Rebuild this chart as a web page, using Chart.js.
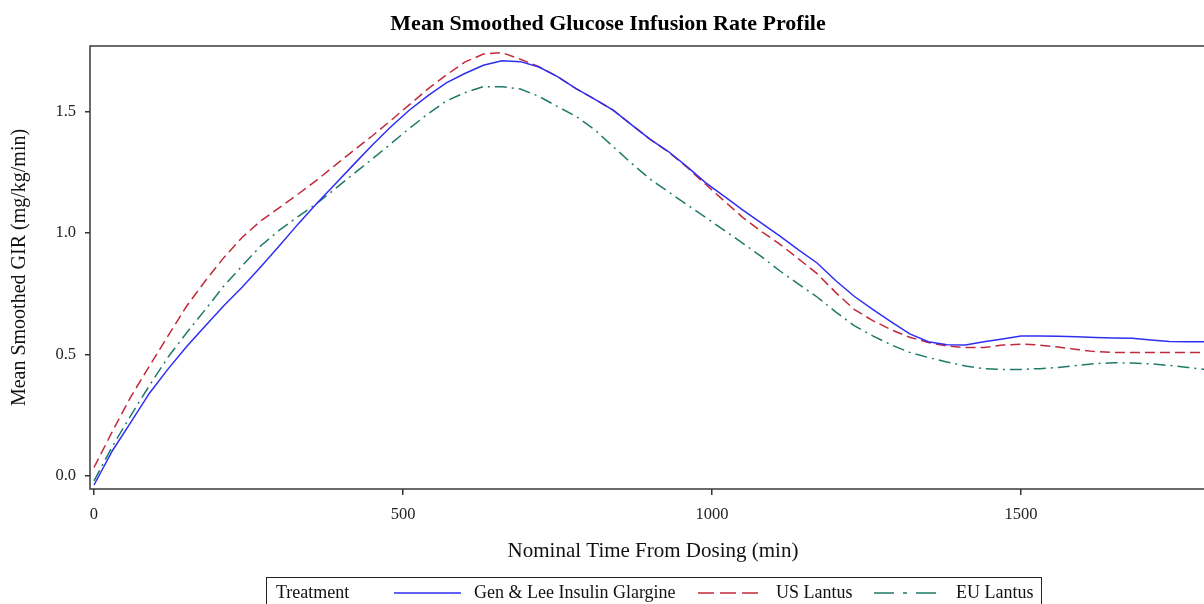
<!DOCTYPE html>
<html><head><meta charset="utf-8">
<script src="https://cdn.jsdelivr.net/npm/chart.js@4/dist/chart.umd.min.js"></script>
<style>
html,body{margin:0;padding:0;background:#fff;overflow:hidden;}
#wrap{position:relative;width:1204px;height:604px;overflow:hidden;background:#fff;}
canvas{position:absolute;left:0;top:0;}
#legend{position:absolute;left:266px;top:577px;width:776px;height:40px;border:1px solid #222;font-family:"Liberation Serif",serif;font-size:18px;color:#111;box-sizing:border-box;}
#legend span{position:absolute;top:3px;white-space:nowrap;line-height:22px;}
#legend svg{position:absolute;top:13px;}
</style></head>
<body><div id="wrap"><canvas id="c" width="1218" height="604"></canvas><div id="legend"></div></div>
<script>
const chartTitle = 'Mean Smoothed Glucose Infusion Rate Profile';
const xTitle = 'Nominal Time From Dosing (min)';
const yTitle = 'Mean Smoothed GIR (mg/kg/min)';
const legendTitle = 'Treatment';
const seriesNames = ['Gen & Lee Insulin Glargine', 'US Lantus', 'EU Lantus'];
const xTicks = [0, 500, 1000, 1500];
const yTicks = [0.0, 0.5, 1.0, 1.5];

const times = [0,30,60,90,120,150,180,210,240,270,300,330,360,390,420,450,480,510,540,570,600,630,660,690,720,750,780,810,840,870,900,930,960,990,1020,1050,1080,1110,1140,1170,1200,1230,1260,1290,1320,1350,1380,1410,1440,1470,1500,1530,1560,1590,1620,1650,1680,1710,1740,1770,1800];

const genLee = [-0.037,0.105,0.223,0.342,0.441,0.533,0.618,0.701,0.778,0.862,0.948,1.037,1.121,1.201,1.282,1.362,1.437,1.506,1.565,1.619,1.657,1.691,1.710,1.706,1.684,1.644,1.595,1.552,1.506,1.446,1.386,1.335,1.273,1.207,1.151,1.095,1.041,0.988,0.931,0.877,0.805,0.740,0.686,0.635,0.585,0.553,0.540,0.539,0.553,0.564,0.576,0.576,0.575,0.573,0.570,0.568,0.567,0.560,0.554,0.553,0.553];

const usLantus = [0.035,0.185,0.328,0.454,0.578,0.700,0.803,0.899,0.983,1.051,1.105,1.160,1.217,1.279,1.340,1.400,1.463,1.528,1.593,1.651,1.704,1.737,1.743,1.716,1.685,1.644,1.595,1.552,1.506,1.446,1.386,1.333,1.270,1.200,1.132,1.064,1.007,0.954,0.894,0.833,0.756,0.686,0.640,0.602,0.571,0.550,0.535,0.529,0.529,0.539,0.543,0.539,0.531,0.521,0.512,0.509,0.509,0.509,0.509,0.509,0.509];

const euLantus = [-0.020,0.123,0.251,0.374,0.490,0.590,0.685,0.782,0.866,0.948,1.012,1.068,1.121,1.182,1.244,1.305,1.367,1.431,1.490,1.544,1.578,1.603,1.603,1.593,1.563,1.521,1.481,1.426,1.356,1.287,1.222,1.169,1.116,1.064,1.011,0.958,0.903,0.844,0.790,0.737,0.676,0.619,0.577,0.540,0.509,0.488,0.469,0.453,0.442,0.439,0.439,0.442,0.447,0.455,0.463,0.466,0.465,0.462,0.455,0.447,0.438];

const colors = ['#2f2ff2', '#c22a3a', '#1f7a6a'];
const dashes = [[], [10, 5], [12, 5, 2, 5]];
const legendDashes = [[], [16, 6], [20, 9, 4, 9]];
const seriesValues = [genLee, usLantus, euLantus];

const serif = '"Liberation Serif", "Times New Roman", serif';

const framePlugin = {
  id: 'frame',
  afterDraw(chart) {
    const a = chart.chartArea, ctx = chart.ctx;
    ctx.save();
    ctx.strokeStyle = '#3a3a3a';
    ctx.lineWidth = 1.5;
    ctx.strokeRect(a.left, a.top, a.right - a.left, a.bottom - a.top);
    ctx.restore();
  }
};

new Chart(document.getElementById('c'), {
  type: 'line',
  data: {
    datasets: seriesNames.map((name, i) => ({
      label: name,
      data: times.map((t, j) => ({x: t, y: seriesValues[i][j]})),
      borderColor: colors[i],
      backgroundColor: colors[i],
      borderWidth: 1.5,
      borderDash: dashes[i],
      pointRadius: 0,
      tension: 0,
      fill: false
    }))
  },
  options: {
    responsive: false,
    animation: false,
    devicePixelRatio: 1,
    layout: {padding: {left: 0, right: 2, top: 0, bottom: 39.2}},
    plugins: {
      legend: {display: false},
      tooltip: {enabled: false},
      title: {
        display: true,
        text: chartTitle,
        color: '#000',
        font: {family: serif, size: 22, weight: 'bold'},
        padding: {top: 10.8, bottom: 8.8}
      }
    },
    scales: {
      x: {
        type: 'linear',
        min: -6.47,
        max: 1815.5,
        afterBuildTicks: s => { s.ticks = xTicks.map(v => ({value: v})); },
        afterFit: s => { s.height = 75.8; },
        border: {display: false},
        grid: {display: true, drawOnChartArea: false, drawTicks: true, tickLength: 6, color: '#333', lineWidth: 1.5},
        ticks: {color: '#222', font: {family: serif, size: 16.5}, padding: 10, maxRotation: 0, callback: v => String(v)},
        title: {display: true, text: xTitle, color: '#111', font: {family: serif, size: 21}, padding: {top: 10, bottom: 1.2}}
      },
      y: {
        type: 'linear',
        min: -0.0535,
        max: 1.7704,
        afterBuildTicks: s => { s.ticks = yTicks.map(v => ({value: v})); },
        afterFit: s => { s.width = 90; },
        border: {display: false},
        grid: {display: true, drawOnChartArea: false, drawTicks: true, tickLength: 5, color: '#333', lineWidth: 1.5},
        ticks: {color: '#222', font: {family: serif, size: 16.5}, padding: 9, callback: v => v.toFixed(1)},
        title: {display: true, text: yTitle, color: '#111', font: {family: serif, size: 20}, padding: {top: 8, bottom: 2}}
      }
    }
  },
  plugins: [framePlugin]
});

// HTML legend built from the series names
const lg = document.getElementById('legend');
const items = [
  {text: legendTitle, x: 9},
  {line: 0, x: 127, w: 67}, {text: seriesNames[0], x: 207},
  {line: 1, x: 431, w: 60}, {text: seriesNames[1], x: 509},
  {line: 2, x: 607, w: 64}, {text: seriesNames[2], x: 689}
];
items.forEach(it => {
  if (it.text !== undefined) {
    const s = document.createElement('span');
    s.textContent = it.text;
    s.style.left = it.x + 'px';
    lg.appendChild(s);
  } else {
    const ns = 'http://www.w3.org/2000/svg';
    const svg = document.createElementNS(ns, 'svg');
    svg.setAttribute('width', String(it.w)); svg.setAttribute('height', '4');
    svg.style.left = it.x + 'px';
    const ln = document.createElementNS(ns, 'line');
    ln.setAttribute('x1', '0'); ln.setAttribute('x2', String(it.w));
    ln.setAttribute('y1', '2'); ln.setAttribute('y2', '2');
    ln.setAttribute('stroke', colors[it.line]);
    ln.setAttribute('stroke-width', '1.5');
    if (legendDashes[it.line].length) ln.setAttribute('stroke-dasharray', legendDashes[it.line].join(' '));
    svg.appendChild(ln);
    lg.appendChild(svg);
  }
});
</script>
</body></html>
